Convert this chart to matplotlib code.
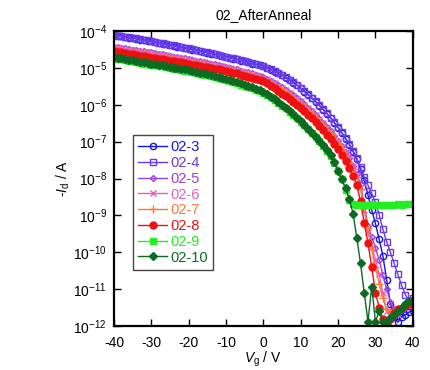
import numpy as np
import matplotlib
matplotlib.use('Agg')
import matplotlib.pyplot as plt

plt.rcParams['font.family'] = ['Liberation Sans', 'DejaVu Sans']
plt.rcParams['mathtext.fontset'] = 'custom'
plt.rcParams['mathtext.rm'] = 'Liberation Sans'
plt.rcParams['mathtext.it'] = 'Liberation Sans:italic'
plt.rcParams['axes.unicode_minus'] = False

# Gate voltage (V), 1 V steps
Vg = np.arange(-40, 41, 1)

# log10(-Id / A) for each device
d02_3 = [-4.11, -4.13, -4.14, -4.16, -4.18, -4.19, -4.21, -4.23, -4.24, -4.26,
         -4.28, -4.30, -4.32, -4.34, -4.36, -4.38, -4.40, -4.42, -4.44, -4.46,
         -4.48, -4.50, -4.52, -4.54, -4.56, -4.59, -4.61, -4.63, -4.65, -4.68,
         -4.70, -4.72, -4.75, -4.77, -4.80, -4.82, -4.85, -4.88, -4.90, -4.93,
         -4.96, -5.00, -5.05, -5.10, -5.15, -5.20, -5.26, -5.33, -5.40, -5.47,
         -5.55, -5.64, -5.73, -5.82, -5.92, -6.02, -6.13, -6.24, -6.36, -6.49,
         -6.62, -6.76, -6.92, -7.08, -7.27, -7.48, -7.75, -8.05, -8.45, -8.85,
         -9.22, -9.65, -10.10, -10.75, -11.40, -11.75, -11.90, -11.75, -11.70, -11.62,
         -11.60]
d02_4 = [-4.10, -4.12, -4.14, -4.15, -4.17, -4.19, -4.20, -4.22, -4.24, -4.25,
         -4.27, -4.29, -4.31, -4.33, -4.35, -4.37, -4.39, -4.41, -4.43, -4.45,
         -4.47, -4.49, -4.51, -4.53, -4.56, -4.58, -4.60, -4.62, -4.65, -4.67,
         -4.69, -4.72, -4.74, -4.77, -4.79, -4.82, -4.84, -4.87, -4.90, -4.93,
         -4.96, -5.00, -5.04, -5.09, -5.14, -5.19, -5.25, -5.32, -5.39, -5.46,
         -5.54, -5.63, -5.72, -5.81, -5.91, -6.01, -6.12, -6.23, -6.35, -6.48,
         -6.61, -6.75, -6.90, -7.06, -7.24, -7.45, -7.70, -7.96, -8.18, -8.40,
         -8.65, -8.98, -9.38, -9.72, -10.00, -10.30, -10.60, -10.90, -11.15, -11.32,
         -11.25]
d02_5 = [-4.43, -4.44, -4.46, -4.47, -4.49, -4.50, -4.52, -4.53, -4.55, -4.56,
         -4.58, -4.60, -4.62, -4.63, -4.65, -4.67, -4.69, -4.71, -4.72, -4.74,
         -4.76, -4.78, -4.80, -4.82, -4.84, -4.86, -4.88, -4.90, -4.93, -4.95,
         -4.97, -4.99, -5.02, -5.04, -5.07, -5.10, -5.12, -5.15, -5.18, -5.21,
         -5.25, -5.30, -5.35, -5.41, -5.47, -5.53, -5.60, -5.67, -5.74, -5.82,
         -5.90, -5.99, -6.08, -6.18, -6.28, -6.38, -6.49, -6.61, -6.72, -6.85,
         -6.98, -7.13, -7.28, -7.45, -7.65, -7.88, -8.15, -8.72, -9.28, -9.58,
         -9.88, -10.22, -10.62, -11.00, -11.35, -11.55, -11.62, -11.50, -11.42, -11.35,
         -11.30]
d02_6 = [-4.44, -4.45, -4.47, -4.48, -4.50, -4.51, -4.53, -4.54, -4.56, -4.57,
         -4.59, -4.61, -4.63, -4.64, -4.66, -4.68, -4.70, -4.72, -4.73, -4.75,
         -4.77, -4.79, -4.81, -4.83, -4.85, -4.87, -4.89, -4.91, -4.94, -4.96,
         -4.98, -5.00, -5.03, -5.05, -5.08, -5.11, -5.13, -5.16, -5.19, -5.22,
         -5.26, -5.31, -5.36, -5.42, -5.48, -5.54, -5.61, -5.68, -5.75, -5.83,
         -5.91, -6.00, -6.09, -6.19, -6.29, -6.39, -6.50, -6.62, -6.73, -6.86,
         -6.99, -7.14, -7.29, -7.46, -7.66, -7.90, -8.22, -8.85, -9.45, -9.85,
         -10.20, -10.60, -11.10, -11.60, -11.72, -11.65, -11.70, -11.55, -11.50, -11.45,
         -11.40]
d02_7 = [-4.51, -4.52, -4.54, -4.55, -4.57, -4.58, -4.60, -4.61, -4.63, -4.64,
         -4.66, -4.68, -4.70, -4.71, -4.73, -4.75, -4.77, -4.79, -4.80, -4.82,
         -4.84, -4.86, -4.88, -4.90, -4.92, -4.94, -4.96, -4.98, -5.01, -5.03,
         -5.05, -5.07, -5.10, -5.12, -5.15, -5.18, -5.20, -5.23, -5.26, -5.29,
         -5.33, -5.38, -5.43, -5.49, -5.55, -5.61, -5.68, -5.75, -5.82, -5.90,
         -5.98, -6.07, -6.16, -6.26, -6.36, -6.46, -6.57, -6.69, -6.80, -6.93,
         -7.06, -7.21, -7.37, -7.54, -7.74, -7.97, -8.28, -8.80, -9.35, -9.90,
         -10.40, -10.85, -11.25, -11.55, -11.62, -11.60, -11.55, -11.50, -11.45, -11.40,
         -11.35]
d02_8 = [-4.55, -4.57, -4.58, -4.60, -4.62, -4.63, -4.65, -4.67, -4.68, -4.70,
         -4.72, -4.74, -4.75, -4.77, -4.79, -4.80, -4.82, -4.84, -4.85, -4.87,
         -4.89, -4.91, -4.93, -4.95, -4.97, -4.98, -5.00, -5.02, -5.04, -5.06,
         -5.08, -5.10, -5.13, -5.15, -5.18, -5.21, -5.24, -5.27, -5.30, -5.33,
         -5.36, -5.42, -5.48, -5.55, -5.62, -5.70, -5.77, -5.84, -5.92, -6.00,
         -6.08, -6.17, -6.27, -6.37, -6.47, -6.58, -6.69, -6.81, -6.93, -7.06,
         -7.20, -7.36, -7.53, -7.72, -7.93, -8.18, -8.62, -9.20, -9.75, -10.40,
         -11.10, -11.50, -11.82, -11.92, -11.80, -11.65, -11.55, -11.50, -11.45, -11.40,
         -11.40]
d02_9 = [-4.74, -4.76, -4.77, -4.79, -4.81, -4.82, -4.84, -4.86, -4.88, -4.89,
         -4.91, -4.93, -4.95, -4.96, -4.98, -5.00, -5.02, -5.04, -5.05, -5.07,
         -5.09, -5.11, -5.13, -5.16, -5.18, -5.20, -5.22, -5.25, -5.27, -5.29,
         -5.32, -5.35, -5.38, -5.41, -5.45, -5.48, -5.52, -5.55, -5.59, -5.63,
         -5.67, -5.73, -5.80, -5.87, -5.94, -6.02, -6.10, -6.19, -6.28, -6.37,
         -6.46, -6.56, -6.66, -6.77, -6.88, -6.99, -7.11, -7.24, -7.39, -7.58,
         -7.80, -8.02, -8.30, -8.58, -8.68, -8.72, -8.71, -8.72, -8.73, -8.72,
         -8.72, -8.71, -8.71, -8.72, -8.71, -8.71, -8.70, -8.71, -8.70, -8.70,
         -8.70]
d02_10 = [-4.71, -4.73, -4.74, -4.76, -4.78, -4.79, -4.81, -4.83, -4.85, -4.86,
          -4.88, -4.90, -4.92, -4.93, -4.95, -4.97, -4.99, -5.01, -5.02, -5.04,
          -5.06, -5.08, -5.10, -5.13, -5.15, -5.17, -5.19, -5.22, -5.24, -5.26,
          -5.29, -5.32, -5.35, -5.38, -5.42, -5.45, -5.49, -5.52, -5.56, -5.60,
          -5.64, -5.71, -5.78, -5.85, -5.92, -6.00, -6.08, -6.17, -6.26, -6.35,
          -6.45, -6.55, -6.65, -6.76, -6.87, -6.98, -7.10, -7.23, -7.37, -7.56,
          -7.80, -8.02, -8.27, -8.55, -8.95, -9.60, -10.30, -11.10, -11.88, -10.93,
          -11.88, -11.60, -11.88, -11.88, -11.78, -11.70, -11.60, -11.50, -11.40, -11.32,
          -11.30]

nomes = ['02-3', '02-4', '02-5', '02-6', '02-7', '02-8', '02-9', '02-10']
dados = [d02_3, d02_4, d02_5, d02_6, d02_7, d02_8, d02_9, d02_10]
cores = ['#1414f0', '#6a3ae8', '#9a3ee0', '#e060c8', '#ff7a2a', '#ee1111', '#22ee22', '#0c6a22']
marcadores = ['o', 's', 'D', 'x', '+', 'o', 's', 'D']
tamanhos = [4.5, 5, 3, 5, 6, 5, 5, 4]
cheios = [False, False, False, False, False, True, True, True]

fig = plt.figure(figsize=(4.3, 3.7), dpi=100)
ax = fig.add_axes([0.265, 0.119, 0.695, 0.797])

for nome, d, cor, m, ms, cheio in zip(nomes, dados, cores, marcadores, tamanhos, cheios):
    ax.plot(Vg, 10.0**np.array(d), color=cor, marker=m, markersize=ms,
            markerfacecolor=cor if cheio else 'none', markeredgecolor=cor,
            markeredgewidth=1.0, linewidth=1.0, label=nome)

ax.set_yscale('log')
ax.set_xlim(-40, 40)
ax.set_ylim(1e-12, 1e-4)
ax.set_xticks(np.arange(-40, 41, 10))
ax.set_yticks([10.0**k for k in range(-12, -3)])
ax.yaxis.set_minor_locator(matplotlib.ticker.NullLocator())
ax.tick_params(direction='in', length=5, width=1, top=True, right=True,
               labelsize=10)
ax.tick_params(axis='x', pad=7)
ax.tick_params(axis='y', pad=5)
for s in ax.spines.values():
    s.set_linewidth(1.6)

ax.set_title('02_AfterAnneal', fontsize=10, pad=9)
ax.set_xlabel(r'$\mathit{V}_\mathregular{g}$ / V', fontsize=10, labelpad=0)
ax.set_ylabel(r'-$\mathit{I}_\mathregular{d}$ / A', fontsize=10, labelpad=1)

leg = ax.legend(loc='upper left', bbox_to_anchor=(0.064, 0.647), borderaxespad=0,
                fontsize=10.5, numpoints=1, handlelength=2.0, handletextpad=0.2,
                labelspacing=0.12, borderpad=0.35, fancybox=False, framealpha=1,
                edgecolor='#444444', labelcolor='linecolor')
leg.get_frame().set_linewidth(1.0)

plt.savefig('out.png', dpi=100)
